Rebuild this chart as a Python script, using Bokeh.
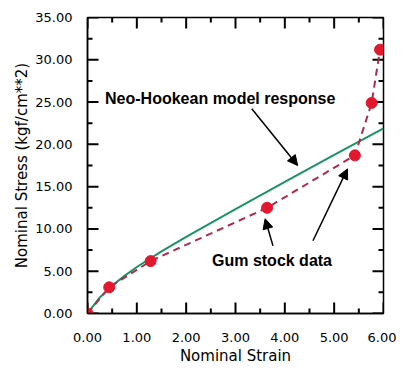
from bokeh.plotting import figure
from bokeh.models import (FixedTicker, PrintfTickFormatter, Range1d,
                          Arrow, NormalHead, Label)
from bokeh.embed import file_html
from bokeh.resources import INLINE

# Gum stock test data (nominal strain, nominal stress)
gum_strain = [0.0, 0.44, 1.28, 3.64, 5.42, 5.76, 5.93]
gum_stress = [0.0, 3.1, 6.2, 12.5, 18.7, 24.9, 31.2]

# Neo-Hookean model response
model_strain = [0.0, 0.25, 0.5, 0.75, 1.0, 1.5, 2.0, 3.0, 4.0, 5.0, 6.0]
model_stress = [0.0, 1.9, 3.3, 4.45, 5.5, 7.35, 9.05, 12.35, 15.55, 18.75, 21.9]

x_major = [0, 1, 2, 3, 4, 5, 6]
x_minor = [0.5, 1.5, 2.5, 3.5, 4.5, 5.5]
y_major = [0, 5, 10, 15, 20, 25, 30, 35]
y_minor = [2.5, 7.5, 12.5, 17.5, 22.5, 27.5, 32.5]
x_min, x_max = 0, 6
y_min, y_max = 0, 35

# annotation anchors (data coordinates)
label_model = ("Neo-Hookean model response", 2.69, 25.4)
label_gum = ("Gum stock data", 3.74, 6.3)
arrows = [  # x_start, y_start, x_end, y_end
    (3.33, 24.2, 4.26, 17.5),
    (3.76, 8.0, 3.60, 11.2),
    (4.57, 8.6, 5.27, 17.1),
]

FRAME = 296  # frame width/height in px
p = figure(frame_width=FRAME, frame_height=FRAME, output_backend="svg", toolbar_location=None,
           x_range=Range1d(x_min, x_max), y_range=Range1d(y_min, y_max),
           x_axis_label="Nominal Strain", y_axis_label="Nominal Stress (kgf/cm**2)",
           min_border_left=87, min_border_right=13, min_border_top=17, min_border_bottom=47)
p.xgrid.grid_line_color = None
p.ygrid.grid_line_color = None
p.outline_line_color = "black"
p.outline_line_width = 1.5

tick_font = "DejaVu Sans"
p.xaxis.ticker = FixedTicker(ticks=x_major, minor_ticks=[])
p.yaxis.ticker = FixedTicker(ticks=y_major, minor_ticks=[])
for ax in p.xaxis + p.yaxis:
    ax.axis_line_color = "black"
    ax.axis_line_width = 1.5
    ax.major_tick_line_color = None
    ax.minor_tick_line_color = None
    ax.formatter = PrintfTickFormatter(format="%.2f")
    ax.major_label_text_font = tick_font
    ax.major_label_text_font_size = "13px"
    ax.major_label_text_color = "black"
    ax.axis_label_text_font = tick_font
    ax.axis_label_text_font_size = "15px"
    ax.axis_label_text_font_style = "normal"
    ax.axis_label_text_color = "black"
p.xaxis.major_label_standoff = 13
p.yaxis.major_label_standoff = 9
p.xaxis.axis_label_standoff = 2
p.yaxis.axis_label_standoff = 1

# inward ticks: filled rectangles centred on the frame edge (outer half is clipped)
for tx, L in ((x_major, 11), (x_minor, 5)):
    n = len(tx)
    for edge in (y_min, y_max):
        p.rect(x=tx, y=[edge] * n, width=2, height=2 * L,
               width_units="screen", height_units="screen",
               fill_color="black", line_color=None)
for ty, L in ((y_major, 11), (y_minor, 5)):
    n = len(ty)
    for edge in (x_min, x_max):
        p.rect(x=[edge] * n, y=ty, width=2 * L, height=2,
               width_units="screen", height_units="screen",
               fill_color="black", line_color=None)

p.line(model_strain, model_stress, line_color="#1a9462", line_width=2)
p.line(gum_strain, gum_stress, line_color="#b02a4a", line_width=2, line_dash="7 5")
p.scatter(gum_strain, gum_stress, size=11, fill_color="#e3182f", line_color="#e3182f")

for txt, x, y in (label_model, label_gum):
    p.add_layout(Label(x=x, y=y, text=txt, text_align="center", text_baseline="middle",
                       text_font="Liberation Sans", text_font_style="bold",
                       text_font_size="16px", text_color="black"))

for xs, ys, xe, ye in arrows:
    p.add_layout(Arrow(x_start=xs, y_start=ys, x_end=xe, y_end=ye, line_width=1.5,
                       line_color="black",
                       end=NormalHead(size=10, fill_color="black", line_color="black")))

open("out.html", "w").write(file_html(p, INLINE))
